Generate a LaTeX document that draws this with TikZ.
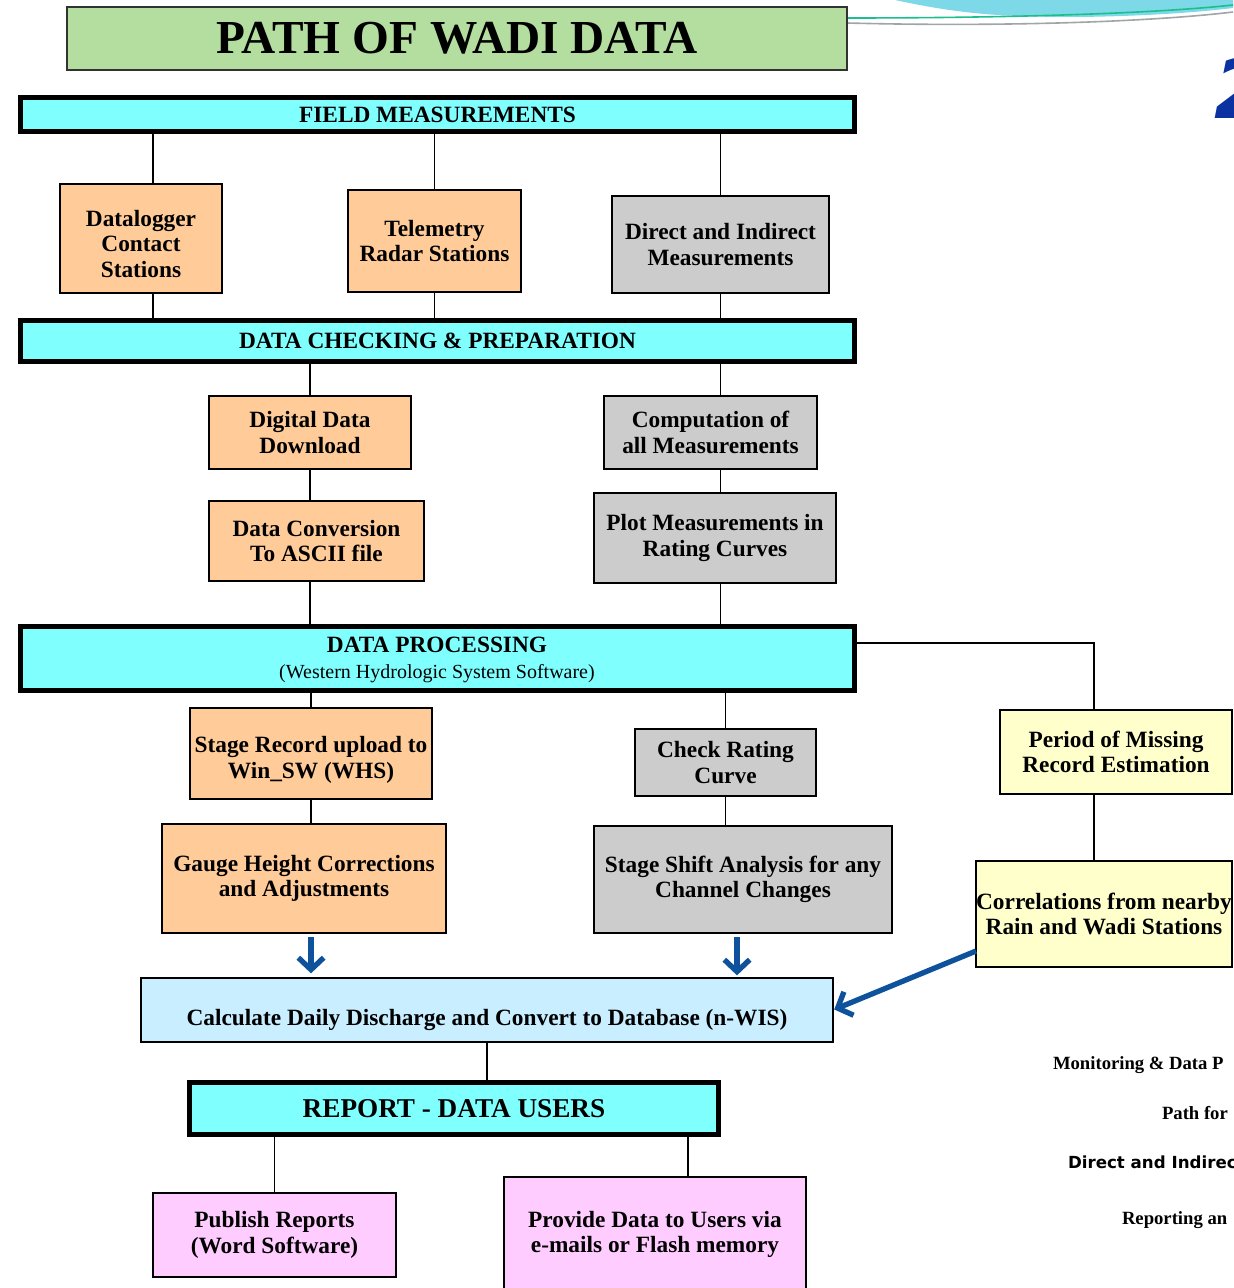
\documentclass[tikz,border=0pt]{standalone}
\usepackage{fontspec}
\setmainfont{Liberation Serif}
\newfontfamily\dvsans{DejaVu Sans}
\usetikzlibrary{arrows.meta}
\definecolor{titlegreen}{RGB}{179,222,160}
\definecolor{barcyan}{RGB}{128,255,255}
\definecolor{peach}{RGB}{255,204,153}
\definecolor{boxgray}{RGB}{204,204,204}
\definecolor{lyellow}{RGB}{255,255,204}
\definecolor{calcblue}{RGB}{200,238,255}
\definecolor{pinkbox}{RGB}{255,204,255}
\definecolor{arrowblue}{RGB}{14,82,156}
\definecolor{decocyan}{RGB}{125,216,232}
\definecolor{decogreen}{RGB}{30,190,140}
\definecolor{decogray}{RGB}{160,165,168}
\definecolor{numblue}{RGB}{10,50,160}
\newcommand\bx[7]{\node[#6, minimum width={(#4-#2)*0.75pt}, minimum height={(#5-#3)*0.75pt}] (#1) at ({(#2+#4)/2},{(#3+#5)/2}) {#7};}
\begin{document}
\begin{tikzpicture}[x=0.75pt,y=-0.75pt,
  font={\bfseries\fontsize{17.5}{19}\selectfont},
  every node/.style={inner sep=0pt, outer sep=0pt, align=center},
  box/.style={draw=black, line width=1.3pt},
  bar/.style={draw=black, line width=3.75pt, fill=barcyan},
  conn/.style={draw=black, line width=1.1pt},
  bluearrow/.style={draw=arrowblue, line width=4pt, -{Straight Barb[length=9pt,width=19pt]}},
  sidetext/.style={anchor=west, font={\bfseries\fontsize{14}{16}\selectfont}}]
\useasboundingbox (0,0) rectangle (1233,1288);
\fill[white] (0,0) rectangle (1233,1288);
% decoration top right
\fill[decocyan] (895,0) .. controls (960,14) and (1000,17) .. (1080,17) .. controls (1150,16) and (1200,12) .. (1233,8) -- (1233,0) -- cycle;
\draw[decogreen, line width=1.2pt] (847,18) .. controls (1000,18) and (1150,14) .. (1233,5);
\draw[decogray, line width=1.2pt] (847,23) .. controls (1000,27) and (1150,22) .. (1233,12);
\node[anchor=west, text=numblue, font={\dvsans\bfseries\itshape\fontsize{62}{62}\selectfont}] (num) at (1214,88) {2};
% title
\bx{title}{67}{7}{847}{70}{draw={rgb,255:red,50;green,50;blue,50}, line width=1.5pt, fill=titlegreen, font={\bfseries\fontsize{35.5}{40}\selectfont}}{PATH OF WADI DATA}
% bars
\bx{field}{20.5}{97.5}{854.5}{131.5}{bar}{FIELD MEASUREMENTS}
\bx{chk}{20.5}{320.5}{854.5}{361.5}{bar}{DATA CHECKING \& PREPARATION}
\bx{proc}{20.5}{626.5}{854.5}{690.5}{bar}{}
\node (proct) at (437,660) {DATA PROCESSING\\[0.5pt]{\mdseries\fontsize{15}{17}\selectfont (Western Hydrologic System Software)}};
\bx{rep}{189.5}{1082.5}{718.5}{1134.5}{bar, font={\bfseries\fontsize{20.4}{24}\selectfont}}{REPORT - DATA USERS}
% field boxes
\bx{dl}{60}{184}{222}{293}{box, fill=peach}{}
\node (dlt) at (141,244) {Datalogger\\Contact\\Stations};
\bx{tel}{348}{190}{521}{292}{box, fill=peach}{Telemetry\\Radar Stations}
\bx{dir}{612}{196}{829}{293}{box, fill=boxgray}{Direct and Indirect\\Measurements}
% checking boxes
\bx{dig}{209}{396}{411}{469}{box, fill=peach}{Digital Data\\Download}
\bx{conv}{209}{501}{424}{581}{box, fill=peach}{Data Conversion\\To ASCII file}
\bx{comp}{604}{396}{817}{469}{box, fill=boxgray}{Computation of\\all Measurements}
\bx{plot}{594}{493}{836}{583}{box, fill=boxgray}{Plot Measurements in\\Rating Curves}
% processing boxes
\bx{stg}{190}{708}{432}{799}{box, fill=peach}{}
\node (stgt) at (311,760) {Stage Record upload to\\Win\_SW (WHS)};
\bx{gau}{162}{824}{446}{933}{box, fill=peach}{Gauge Height Corrections\\and Adjustments}
\bx{chr}{635}{729}{816}{796}{box, fill=boxgray}{Check Rating\\Curve}
\bx{shf}{594}{826}{892}{933}{box, fill=boxgray}{Stage Shift Analysis for any\\Channel Changes}
\bx{per}{1000}{710}{1232}{794}{box, fill=lyellow}{Period of Missing\\Record Estimation}
\bx{corr}{976}{861}{1232}{967}{box, fill=lyellow}{Correlations from nearby\\Rain and Wadi Stations}
% calculate
\bx{calc}{141}{978}{833}{1042}{box, fill=calcblue}{}
\node (calctext) at (487,1020) {Calculate Daily Discharge and Convert to Database (n-WIS)};
% report boxes
\bx{pub}{153}{1193}{396}{1277}{box, fill=pinkbox}{Publish Reports\\(Word Software)}
\bx{prov}{504}{1177}{806}{1292}{box, fill=pinkbox}{Provide Data to Users via\\e-mails or Flash memory}
% side texts
\node[sidetext] (s1) at (1053,1065) {Monitoring \& Data P};
\node[sidetext] (s2) at (1162,1113) {Path for};
\node[sidetext, font={\dvsans\bfseries\fontsize{12.5}{15}\selectfont}] (s3) at (1068,1162) {Direct and Indirec};
\node[sidetext] (s4) at (1122,1220) {Reporting an};
% connectors
\coordinate (dlx) at ([xshift=9pt]dl.north);
\draw[conn] (dlx) -- (dlx |- field.south);
\draw[conn] (tel.north) -- (tel.north |- field.south);
\draw[conn] (dir.north) -- (dir.north |- field.south);
\draw[conn] (dl.south -| dlx) -- (dlx |- chk.north);
\draw[conn] (tel.south) -- (tel.south |- chk.north);
\draw[conn] (dir.south) -- (dir.south |- chk.north);
\draw[conn] (dig.north) -- (dig.north |- chk.south);
\draw[conn] (dig.south) -- (dig.south |- conv.north);
\draw[conn] (conv.south -| dig.south) -- (dig.south |- proc.north);
\draw[conn] (comp.north -| dir.south) -- (dir.south |- chk.south);
\draw[conn] (comp.south -| dir.south) -- (dir.south |- plot.north);
\draw[conn] (plot.south -| dir.south) -- (dir.south |- proc.north);
\draw[conn] (stg.north) -- (stg.north |- proc.south);
\draw[conn] (stg.south) -- (stg.south |- gau.north);
\draw[conn] (chr.north) -- (chr.north |- proc.south);
\draw[conn] (chr.south) -- (chr.south |- shf.north);
\coordinate (pj) at ([xshift=-16.5pt]per.north);
\draw[conn] ([yshift=11.6pt]proc.east) -| (pj);
\draw[conn] (per.south -| pj) -- (pj |- corr.north);
\draw[conn] (calc.south) -- (calc.south |- rep.north);
\draw[conn] (pub.north) -- (pub.north |- rep.south);
\coordinate (pvx) at ([xshift=24.75pt]prov.north);
\draw[conn] (pvx) -- (pvx |- rep.south);
% blue arrows
\draw[bluearrow, shorten <=3pt, shorten >=3.5pt] (gau.south -| stg.south) -- (stg.south |- calc.north);
\coordinate (sx) at ([xshift=-4.5pt]shf.south);
\draw[bluearrow, shorten <=3pt, shorten >=2pt] (sx) -- (sx |- calc.north);
\draw[bluearrow, shorten >=1pt] ([yshift=-27.75pt]corr.west) -- (calc.east);
\end{tikzpicture}
\end{document}
